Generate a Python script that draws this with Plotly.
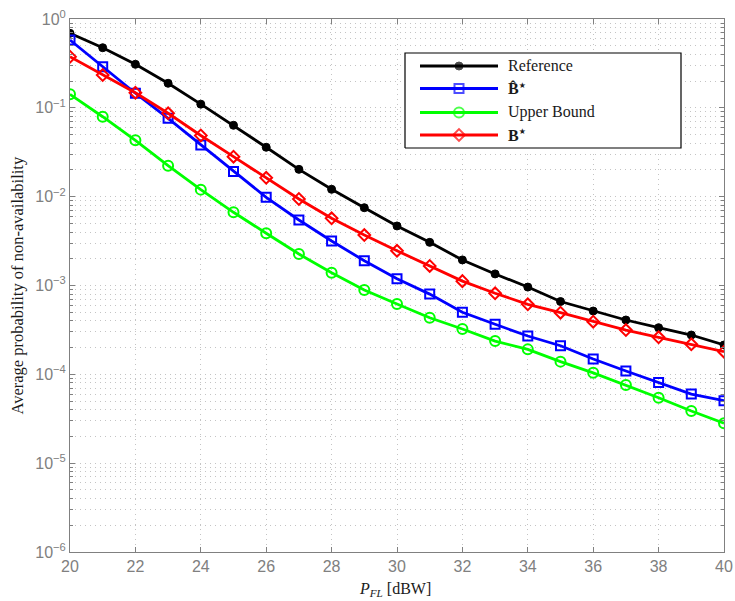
import plotly.graph_objects as go

# Transmit power sweep and the average probability of non-availability per scheme
p_fl = list(range(20, 41))
reference = [0.690, 0.475, 0.309, 0.189, 0.110, 0.0636, 0.0360, 0.0203, 0.0121, 0.00751,
             0.00468, 0.00306, 0.00194, 0.00135, 9.6e-4, 6.6e-4, 5.16e-4, 4.09e-4,
             3.35e-4, 2.77e-4, 2.14e-4]
b_hat_star = [0.580, 0.290, 0.146, 0.0762, 0.0382, 0.0192, 0.00984, 0.00546, 0.00317,
              0.00190, 0.00119, 8.0e-4, 4.99e-4, 3.66e-4, 2.70e-4, 2.10e-4, 1.49e-4,
              1.09e-4, 8.1e-5, 6.0e-5, 5.05e-5]
upper_bound = [0.142, 0.0794, 0.0431, 0.0223, 0.0120, 0.00667, 0.00387, 0.00226, 0.00139,
               8.89e-4, 6.19e-4, 4.34e-4, 3.24e-4, 2.37e-4, 1.91e-4, 1.39e-4, 1.04e-4,
               7.58e-5, 5.45e-5, 3.87e-5, 2.81e-5]
b_star = [0.376, 0.234, 0.148, 0.0868, 0.0488, 0.0282, 0.0163, 0.00941, 0.00571, 0.00370,
          0.00246, 0.00166, 0.00112, 8.17e-4, 6.14e-4, 4.94e-4, 3.91e-4, 3.15e-4,
          2.61e-4, 2.18e-4, 1.80e-4]

x_ticks = [20, 22, 24, 26, 28, 30, 32, 34, 36, 38, 40]
y_exponents = [-6, -5, -4, -3, -2, -1, 0]
y_ticktext = ["10<sup>\u2212%d</sup>" % -e if e < 0 else "10<sup>0</sup>" for e in y_exponents]
STAR = "<sup><span style='font-family:DejaVu Sans;font-size:8px'>\u2605</span></sup>"
legend_names = ["Reference", "<b>B\u0302</b>" + STAR, "Upper Bound", "<b>B</b>" + STAR]

series = [
    (reference, "#000000", dict(symbol="circle", size=8, color="#000000",
                                line=dict(width=1, color="#000000"))),
    (b_hat_star, "#0000ff", dict(symbol="square-open", size=9,
                                 line=dict(width=2, color="#0000ff"), color="#0000ff")),
    (upper_bound, "#00ff00", dict(symbol="circle-open", size=10,
                                  line=dict(width=2, color="#00ff00"), color="#00ff00")),
    (b_star, "#ff0000", dict(symbol="diamond-open", size=9,
                             line=dict(width=2, color="#ff0000"), color="#ff0000")),
]

W, H = 735, 601
ML, MR, MT, MB = 70, 11, 19, 49
PW, PH = W - ML - MR, H - MT - MB

AXIS_GRAY = "#808080"
GRID = "#c4c4c4"
TICK_FONT = dict(family="Liberation Sans, Arial, sans-serif", size=16, color=AXIS_GRAY)
SERIF = "Liberation Serif, Times New Roman, serif"

fig = go.Figure()

for (vals, col, marker), name in zip(series, legend_names):
    fig.add_trace(go.Scatter(x=p_fl, y=vals, mode="lines+markers", name=name,
                             line=dict(color=col, width=2.8), marker=marker,
                             showlegend=False, xaxis="x", yaxis="y"))

# Legend panel drawn on an overlay subplot (pixel geometry of the box)
box_l, box_r, box_t, box_b, pad = 405, 681, 53, 148, 3
bw, bh = box_r - box_l, box_b - box_t
x2_domain = [(box_l - pad - ML) / PW, (box_r + pad - ML) / PW]
y2_domain = [(MT + PH - (box_b + pad)) / PH, (MT + PH - (box_t - pad)) / PH]
x2_range = [-pad / bw, 1 + pad / bw]
y2_range = [-pad / bh, 1 + pad / bh]

fig.add_trace(go.Scatter(x=[0, 1, 1, 0, 0], y=[0, 0, 1, 1, 0], mode="lines",
                         fill="toself", fillcolor="white",
                         line=dict(color="black", width=1.2),
                         hoverinfo="skip", showlegend=False, xaxis="x2", yaxis="y2"))

row_px = [66, 88.5, 112.5, 135]
line_x0, line_x1, text_x = 420, 498, 506
for (vals, col, marker), name, rp in zip(series, legend_names, row_px):
    ry = (box_b - rp) / bh
    lx0, lx1 = (line_x0 - box_l) / bw, (line_x1 - box_l) / bw
    fig.add_trace(go.Scatter(x=[lx0, (lx0 + lx1) / 2, lx1], y=[ry, ry, ry],
                             mode="lines+markers",
                             line=dict(color=col, width=2.8),
                             marker=dict(marker, size=[0, marker["size"], 0]),
                             hoverinfo="skip", showlegend=False, xaxis="x2", yaxis="y2"))
    fig.add_annotation(x=(text_x - box_l) / bw, y=ry, xref="x2", yref="y2",
                       text=name, showarrow=False, xanchor="left", yanchor="middle",
                       font=dict(family=SERIF, size=16, color="#1a1a1a"))

minor_y = [k * 10.0 ** e for e in range(-6, 0) for k in range(2, 10)]

fig.update_layout(
    width=W, height=H,
    margin=dict(l=ML, r=MR, t=MT, b=MB, pad=0),
    paper_bgcolor="white", plot_bgcolor="white",
    showlegend=False,
    xaxis=dict(range=[20, 40], tickvals=x_ticks, ticks="inside", ticklen=5,
               tickcolor=AXIS_GRAY, tickwidth=1, tickfont=TICK_FONT, automargin=False,
               showline=True, linecolor=AXIS_GRAY, linewidth=1, mirror="ticks",
               showgrid=True, gridcolor=GRID, griddash="1px,4px", gridwidth=1,
               zeroline=False),
    yaxis=dict(type="log", range=[-6, 0], tickvals=[10.0 ** e for e in y_exponents],
               ticktext=y_ticktext, ticks="inside", ticklen=5, tickcolor=AXIS_GRAY,
               tickwidth=1, tickfont=TICK_FONT, showline=True, linecolor=AXIS_GRAY,
               linewidth=1, mirror="ticks", showgrid=True, gridcolor=GRID,
               griddash="1px,4px", gridwidth=1, zeroline=False, automargin=False,
               minor=dict(tickvals=minor_y, ticks="inside", ticklen=3,
                          tickcolor=AXIS_GRAY, showgrid=True, gridcolor=GRID,
                          griddash="1px,4px", gridwidth=1)),
    xaxis2=dict(domain=x2_domain, range=x2_range, visible=False, anchor="y2",
                automargin=False),
    yaxis2=dict(domain=y2_domain, range=y2_range, visible=False, anchor="x2",
                automargin=False),
)

# Axis titles
fig.add_annotation(x=(395 - ML) / PW, y=-(589 - (MT + PH)) / PH, xref="paper", yref="paper",
                   text="<i>P</i><sub><i>FL</i></sub> [dBW]", showarrow=False,
                   xanchor="center", yanchor="middle",
                   font=dict(family=SERIF, size=16, color="#1a1a1a"))
fig.add_annotation(x=(17 - ML) / PW, y=0.5, xref="paper", yref="paper",
                   text="Average probability of non-availability", showarrow=False,
                   textangle=-90, xanchor="center", yanchor="middle",
                   font=dict(family=SERIF, size=16.5, color="#1a1a1a"))

fig.write_html("out.html")
